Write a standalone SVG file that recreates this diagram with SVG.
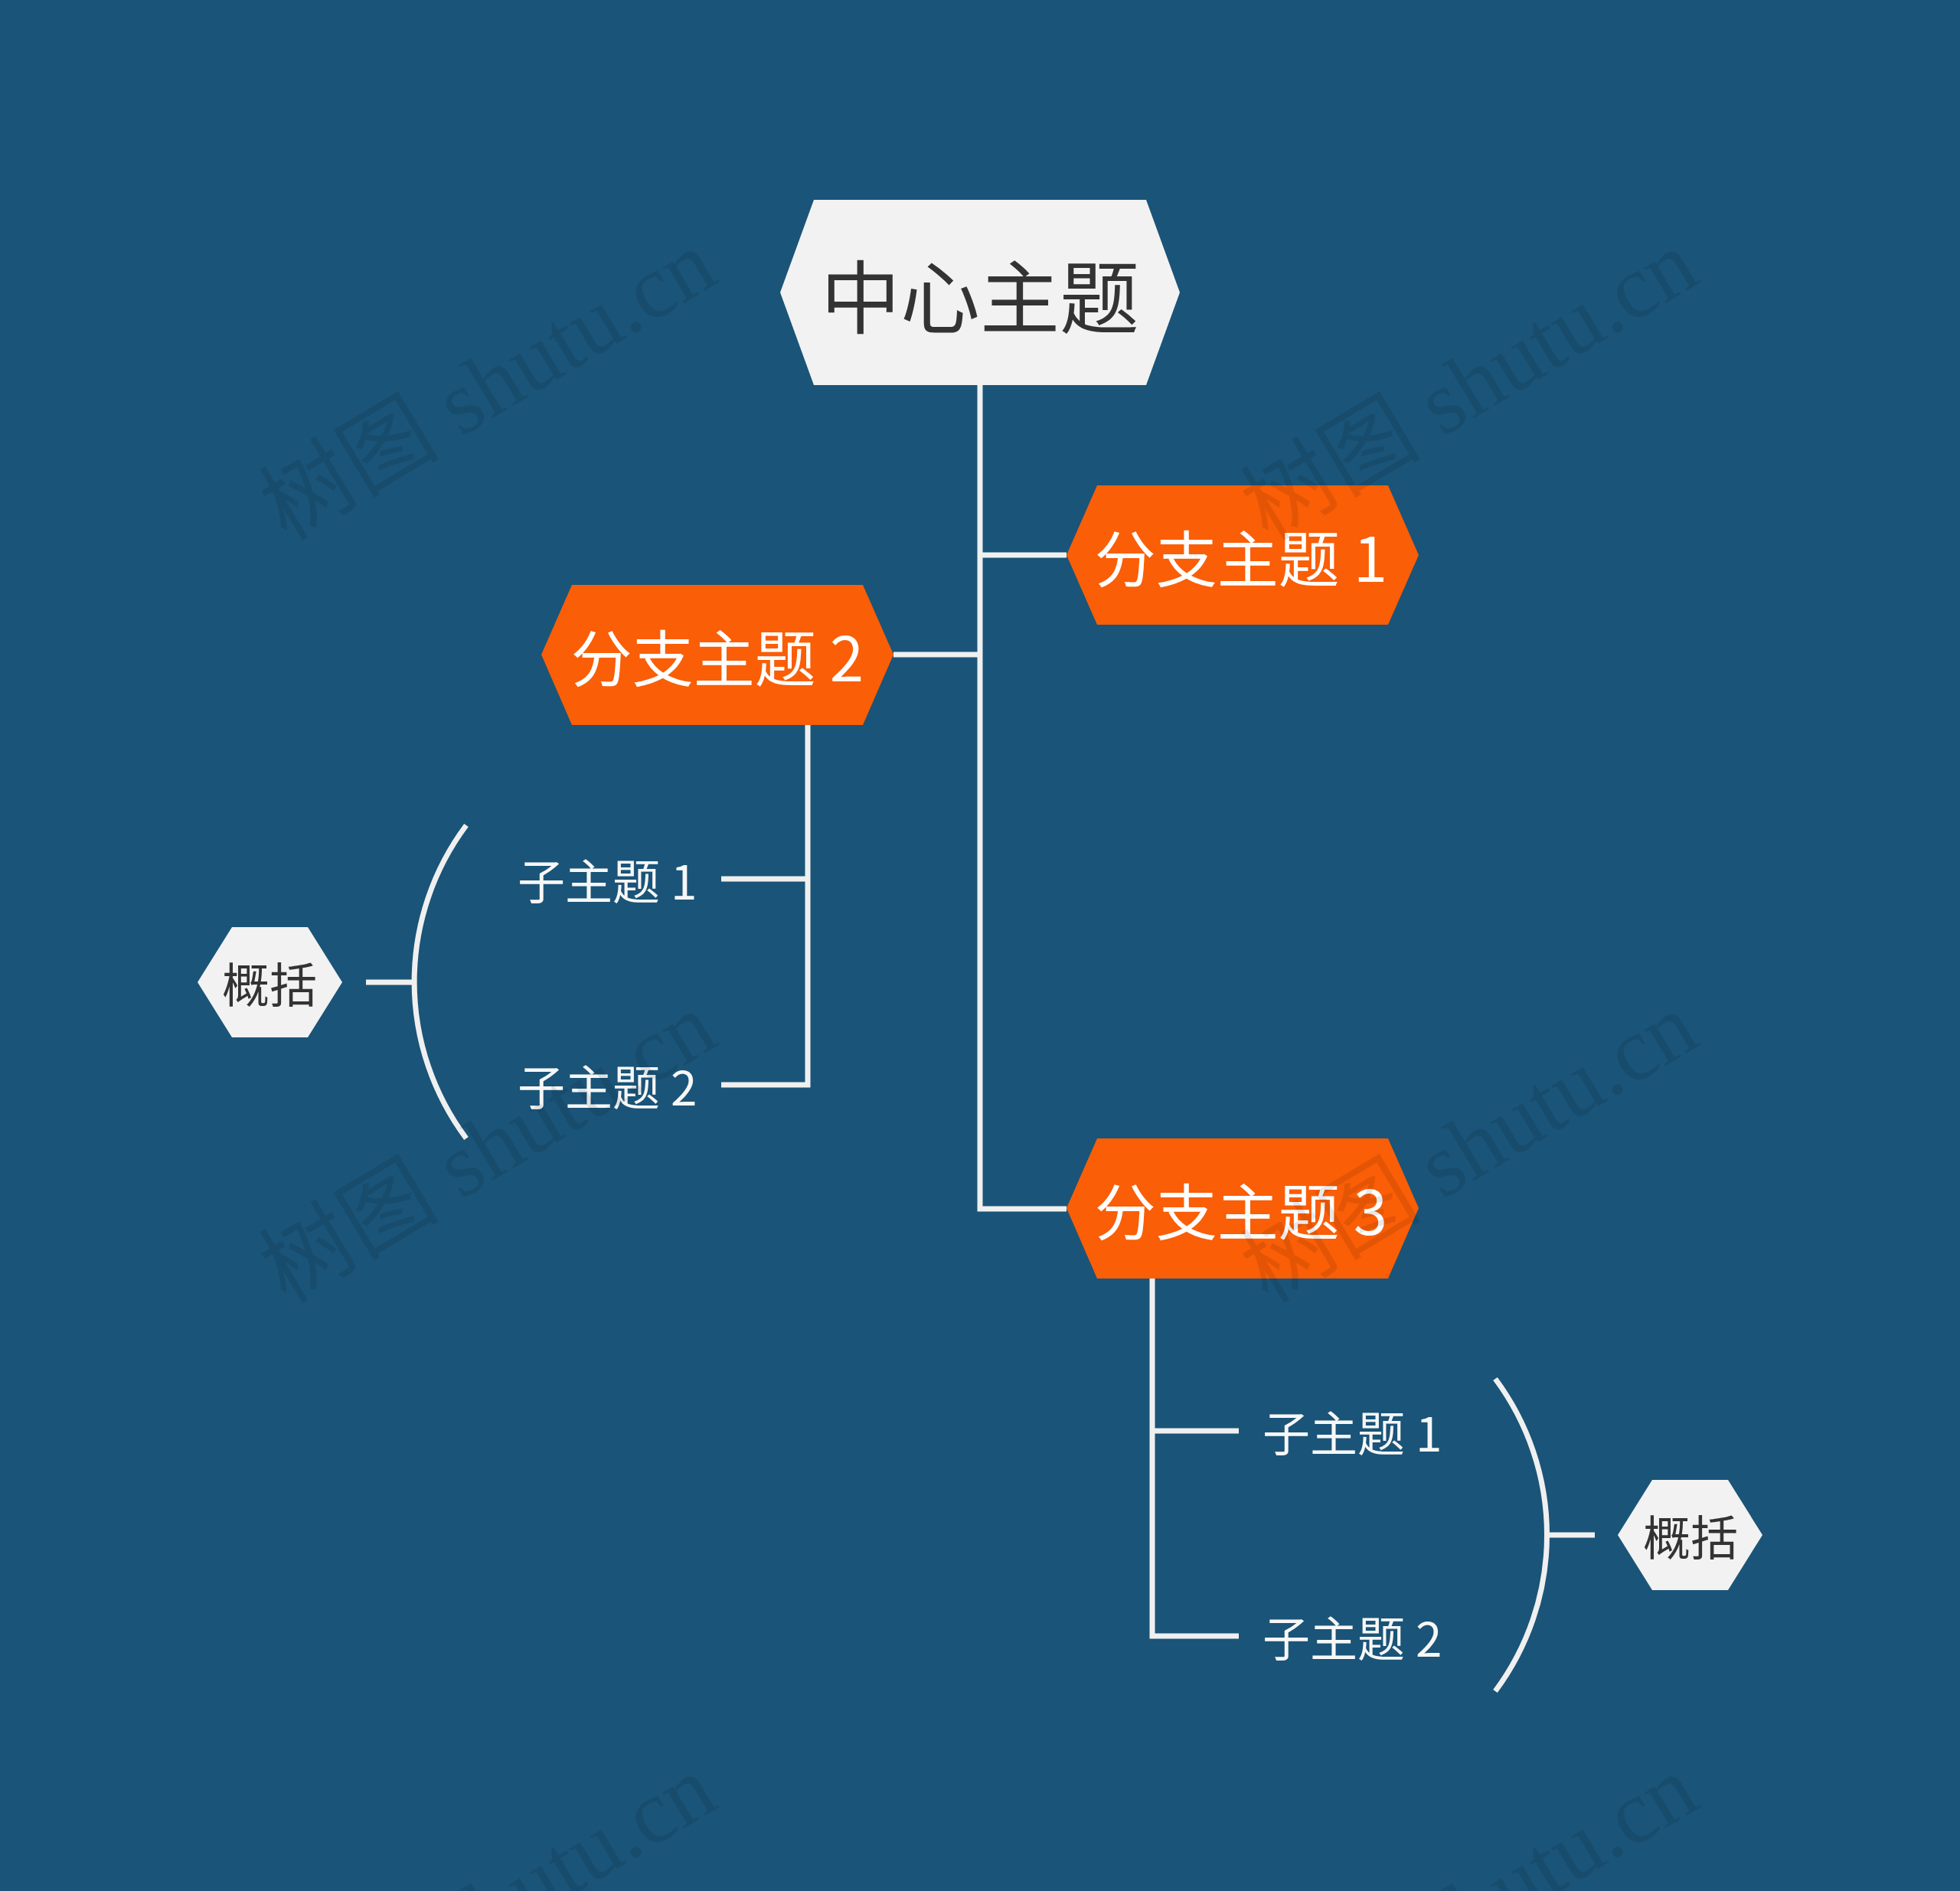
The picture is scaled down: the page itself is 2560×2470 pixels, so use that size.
<svg xmlns="http://www.w3.org/2000/svg" width="2560" height="2470" viewBox="0 0 2560 2470">
<style>
.bg{fill:#1a5478}
.light{fill:#f2f2f2}
.orange{fill:#fa5e06}
.line{fill:none;stroke:#f0f0f0;stroke-width:7;stroke-linejoin:miter;stroke-linecap:butt}
.t{font-family:"Noto Sans CJK SC","Noto Sans",sans-serif;text-anchor:middle;dominant-baseline:central}
.dark{fill:#333333}
.white{fill:#ffffff}
.sub{font-family:"Noto Sans CJK SC","Noto Sans",sans-serif;font-size:62px;fill:#f7f7f7;dominant-baseline:central}
.wm{font-family:"Liberation Serif","Noto Sans CJK SC",serif;font-size:118px;fill:#000000;fill-opacity:0.09}
</style>
<rect class="bg" x="0" y="0" width="2560" height="2470"/>
<g id="connectors">
<path class="line" d="M1280,503 V1579 H1393"/>
<path class="line" d="M1280,725 H1393"/>
<path class="line" d="M1280,855 H1167"/>
<path class="line" d="M1055,947 V1417 H942"/>
<path class="line" d="M1055,1148 H942"/>
<path class="line" d="M1505,1670 V2137 H1618"/>
<path class="line" d="M1505,1869 H1618"/>
<path class="line" d="M478,1283 H541"/>
<path class="line" d="M609,1078 A342,342 0 0 0 609,1487"/>
<path class="line" d="M2020,2005 H2083"/>
<path class="line" d="M1953,1801 A342,342 0 0 1 1953,2209"/>
</g>
<g id="central">
<polygon class="light" points="1019,382 1063,261 1497,261 1541,382 1497,503 1063,503"/>
<text class="t dark" x="1280" y="382" font-size="104">中心主题</text>
</g>
<g id="branch1">
<polygon class="orange" points="1393,725 1433,634 1813,634 1853,725 1813,816 1433,816"/>
<text class="t white" x="1621" y="725" font-size="80">分支主题 1</text>
</g>
<g id="branch2">
<polygon class="orange" points="707,855 747,764 1127,764 1167,855 1127,947 747,947"/>
<text class="t white" x="937" y="855" font-size="80">分支主题 2</text>
</g>
<g id="branch3">
<polygon class="orange" points="1393,1578 1433,1487 1813,1487 1853,1578 1813,1670 1433,1670"/>
<text class="t white" x="1621" y="1578" font-size="80">分支主题 3</text>
</g>
<g id="b2sub1"><text class="sub" x="676" y="1148">子主题 1</text></g>
<g id="b2sub2"><text class="sub" x="676" y="1417">子主题 2</text></g>
<g id="b3sub1"><text class="sub" x="1649" y="1869">子主题 1</text></g>
<g id="b3sub2"><text class="sub" x="1649" y="2137">子主题 2</text></g>
<g id="summary1">
<polygon class="light" points="258,1283 303,1211 402,1211 447,1283 402,1355 303,1355"/>
<text class="t dark" x="352" y="1283" font-size="62">概括</text>
</g>
<g id="summary2">
<polygon class="light" points="2113,2005 2158,1933 2257,1933 2302,2005 2257,2077 2158,2077"/>
<text class="t dark" x="2208" y="2005" font-size="62">概括</text>
</g>
<g id="watermarks">
<text class="wm" transform="translate(374,708) rotate(-31)">树图 shutu.cn</text>
<text class="wm" transform="translate(1656,708) rotate(-31)">树图 shutu.cn</text>
<text class="wm" transform="translate(374,1704) rotate(-31)">树图 shutu.cn</text>
<text class="wm" transform="translate(1656,1704) rotate(-31)">树图 shutu.cn</text>
<text class="wm" transform="translate(374,2700) rotate(-31)">树图 shutu.cn</text>
<text class="wm" transform="translate(1656,2700) rotate(-31)">树图 shutu.cn</text>
</g>
</svg>
